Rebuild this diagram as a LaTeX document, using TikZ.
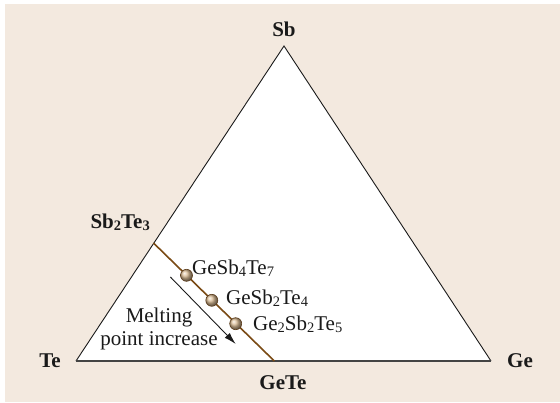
\documentclass[tikz,border=0pt]{standalone}
\usepackage{fontspec}
\setmainfont{Liberation Serif}
\usetikzlibrary{arrows.meta}
\definecolor{paper}{HTML}{F3E9DF}
\definecolor{ink}{HTML}{1A1A1A}
\definecolor{baseline}{HTML}{444444}
\definecolor{tieline}{HTML}{7A4A14}
\definecolor{bead}{HTML}{DDBF98}
\definecolor{beadrim}{HTML}{5A3A18}
\newcommand{\chemsub}[1]{\raisebox{-0.25ex}{\fontsize{14.5}{14.5}\selectfont #1}}
\tikzset{
  nodebase/.style={font=\fontsize{21}{23}\selectfont, text=ink, inner sep=1pt},
  corner/.style={nodebase, font=\fontsize{21}{23}\selectfont\bfseries},
  phase/.style={nodebase, anchor=west},
  edge/.style={draw=ink, line width=0.9pt, line join=miter},
  tie/.style={draw=tieline, line width=1.6pt},
  ball/.style={circle, draw=beadrim, line width=0.6pt, minimum size=12pt,
    inner sep=0pt, shading=ball, ball color=bead},
  trend/.style={-{Latex[length=12pt, width=7pt]}, draw=ink, line width=0.9pt}
}
\begin{document}
\begin{tikzpicture}[x=1pt,y=-1pt]

% page and background
\useasboundingbox (0,0) rectangle (560,402);
\fill[white] (0,0) rectangle (560,402);
\fill[paper] (5,4) rectangle (560,402);

% ternary triangle
\coordinate (te) at (76,361);
\coordinate (ge) at (491,361);
\coordinate (sb) at (284,46);
\fill[white] (te) -- (sb) -- (ge) -- cycle;
\draw[edge] (te) -- (sb) -- (ge);
\draw[draw=baseline, line width=1.6pt] (te) -- (ge);

% pure elements
\node[corner] (sblabel) at (284,29) {Sb};
\node[corner] (telabel) at (50,361) {Te};
\node[corner] (gelabel) at (520,361) {Ge};

% pseudo-binary tie line
\coordinate (sbte) at (153.5,243);
\coordinate (gete) at (274.3,361);
\draw[tie] (sbte) -- (gete);
\node[corner, anchor=east] (sbtelabel) at (151,222) {Sb\chemsub{2}Te\chemsub{3}};
\node[corner] (getelabel) at (283,383) {GeTe};

% compounds
\node[ball] (gst147) at (186.5,275.3) {};
\node[ball] (gst124) at (211.8,300.3) {};
\node[ball] (gst225) at (235.7,323.7) {};
\node[phase] (gst147label) at (191,268) {GeSb\chemsub{4}Te\chemsub{7}};
\node[phase] (gst124label) at (225,298) {GeSb\chemsub{2}Te\chemsub{4}};
\node[phase] (gst225label) at (252,324) {Ge\chemsub{2}Sb\chemsub{2}Te\chemsub{5}};

% melting point trend
\coordinate (trendtop) at (170.4,277);
\coordinate (trendend) at (235.7,344);
\draw[trend] (trendtop) -- (trendend);
\node[nodebase, align=center] (trendlabel) at (159,329) {Melting\\point increase};

\end{tikzpicture}
\end{document}
